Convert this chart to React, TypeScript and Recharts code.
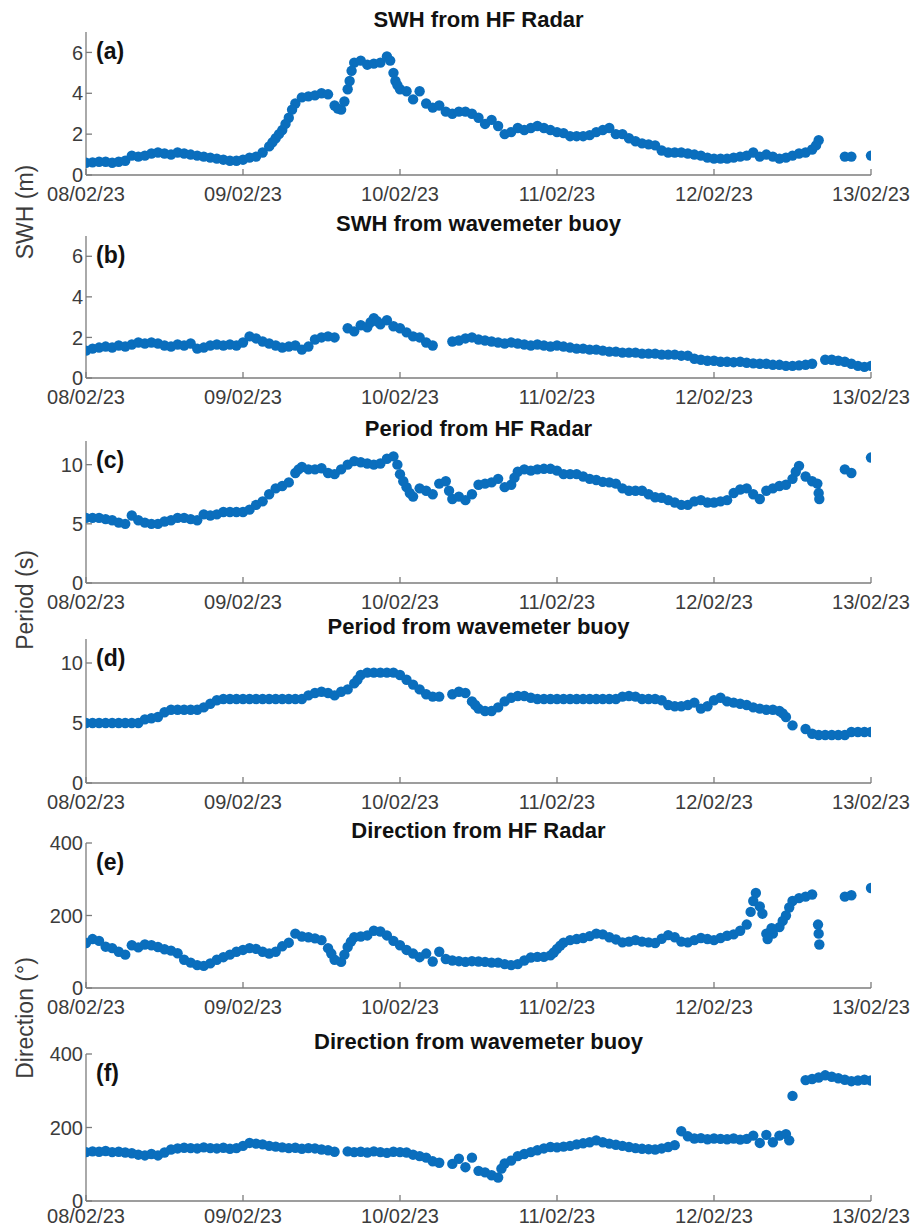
import React from 'react';
import { ScatterChart, Scatter, XAxis, YAxis } from 'recharts';

// ---- tick labels / categories ----
const DATE_TICKS = [0, 24, 48, 72, 96, 120]; // hours since 08/02/23 00:00
const DATE_LABELS = ['08/02/23', '09/02/23', '10/02/23', '11/02/23', '12/02/23', '13/02/23'];

const TITLES = [
  'SWH from HF Radar',
  'SWH from wavemeter buoy',
  'Period from HF Radar',
  'Period from wavemeter buoy',
  'Direction from HF Radar',
  'Direction from wavemeter buoy',
];
const TAGS = ['(a)', '(b)', '(c)', '(d)', '(e)', '(f)'];
const Y_LABELS = ['SWH (m)', 'Period (s)', 'Direction (°)'];

const SWH_DOMAIN = [0, 7];
const SWH_TICKS = [0, 2, 4, 6];
const PER_DOMAIN = [0, 12];
const PER_TICKS = [0, 5, 10];
const DIR_DOMAIN = [0, 400];
const DIR_TICKS = [0, 200, 400];

// ---- hourly series values (index = hour from 08/02/23 00:00), null = no data ----
const swhRadar = [
  0.6, 0.62, 0.65, 0.65, 0.6, 0.65, 0.7,
  0.95, 0.9, 0.95, 1.05, 1.1, 1.05,
  1.0, 1.1, 1.05, 1.0, 0.95, 0.9,
  0.85, 0.8, 0.75, 0.7, 0.7, 0.75,
  0.85, 0.9, 1.1, 1.4, 1.8, 2.2,
  2.8, 3.5, 3.8, 3.85, 3.9, 4.0,
  3.95, 3.4, 3.2, 4.2, 5.5, 5.6,
  5.4, 5.45, 5.5, 5.8, 5.0, 4.2,
  4.1, 3.7, 4.1, 3.5, 3.3, 3.4,
  3.1, 3.0, 3.1, 3.1, 3.0, 2.8,
  2.5, 2.7, 2.4, 2.0, 2.1, 2.3,
  2.2, 2.3, 2.4, 2.3, 2.2, 2.1,
  2.05, 1.9, 1.9, 1.9, 1.95, 2.1,
  2.2, 2.3, 2.0, 2.0, 1.8, 1.65,
  1.55, 1.5, 1.45, 1.2, 1.1, 1.1,
  1.1, 1.05, 1.0, 0.95, 0.85, 0.8,
  0.8, 0.8, 0.85, 0.9, 0.95, 1.1,
  0.9, 1.0, 0.9, 0.8, 0.85, 0.95,
  1.05, 1.1, 1.25, 1.7, null, null,
  null, 0.9, 0.9, null, null, 0.95,
];
const swhRadarExtra = [
  [28.5, 1.6], [29.5, 2.0], [30.5, 2.5], [31.5, 3.2], [38.5, 3.25], [39.5, 3.6],
  [40.3, 4.6], [40.6, 5.1], [46.5, 5.6], [47.3, 4.6], [47.6, 4.4], [111.6, 1.45],
];

const swhBuoy = [
  1.35, 1.45, 1.5, 1.55, 1.5, 1.6, 1.55,
  1.65, 1.75, 1.7, 1.75, 1.7, 1.6,
  1.55, 1.65, 1.6, 1.7, 1.45, 1.5,
  1.6, 1.65, 1.6, 1.65, 1.6, 1.75,
  2.05, 1.95, 1.8, 1.7, 1.6, 1.5,
  1.55, 1.6, 1.4, 1.55, 1.9, 2.0,
  2.05, 2.0, null, 2.45, 2.3, 2.6,
  2.5, 2.95, 2.65, 2.85, 2.55, 2.45,
  2.25, 2.05, 2.0, 1.75, 1.6, null,
  null, 1.8, 1.85, 1.95, 2.0, 1.9,
  1.85, 1.8, 1.75, 1.7, 1.75, 1.7,
  1.65, 1.6, 1.65, 1.6, 1.55, 1.6,
  1.55, 1.5, 1.45, 1.45, 1.4, 1.4,
  1.35, 1.3, 1.3, 1.25, 1.25, 1.25,
  1.2, 1.2, 1.2, 1.15, 1.15, 1.15,
  1.1, 1.1, 0.95, 0.9, 0.85, 0.85,
  0.8, 0.8, 0.78, 0.8, 0.75, 0.72,
  0.7, 0.7, 0.65, 0.65, 0.6, 0.6,
  0.62, 0.65, 0.7, null, 0.9, 0.9,
  0.85, 0.8, 0.7, 0.6, 0.55, 0.6,
];
const swhBuoyExtra = [[43.5, 2.75], [44.5, 2.8]];

const perRadar = [
  5.5, 5.5, 5.5, 5.4, 5.3, 5.1, 5.0,
  5.7, 5.3, 5.1, 5.0, 5.0, 5.2,
  5.3, 5.5, 5.5, 5.4, 5.3, 5.8,
  5.7, 5.8, 6.0, 6.0, 6.0, 6.0,
  6.2, 6.6, 6.9, 7.5, 8.0, 8.2,
  8.5, 9.3, 9.8, 9.6, 9.6, 9.7,
  9.3, 9.2, 9.6, 10.0, 10.3, 10.2,
  10.1, 10.0, 10.1, 10.5, 10.7, 9.2,
  8.1, 7.3, 8.0, 7.8, 7.5, 8.4,
  8.6, 7.1, 7.3, 7.0, 7.5, 8.3,
  8.4, 8.5, 8.8, 8.1, 8.3, 9.4,
  9.6, 9.5, 9.6, 9.65, 9.65, 9.5,
  9.2, 9.2, 9.2, 9.0, 8.8, 8.7,
  8.55, 8.5, 8.4, 8.0, 7.8, 7.8,
  7.8, 7.5, 7.25, 7.2, 7.0, 6.8,
  6.6, 6.6, 6.9, 7.0, 6.8, 6.8,
  6.9, 7.0, 7.6, 7.9, 8.0, 7.5,
  7.1, 7.8, 8.0, 8.2, 8.3, 8.8,
  9.9, 9.0, 8.6, 7.6, null, null,
  null, 9.6, 9.3, null, null, 10.6,
];
const perRadarExtra = [
  [111.8, 8.4], [112.1, 7.1], [47.6, 10.0], [48.5, 8.6], [49.5, 7.6], [32.5, 9.6],
  [55.5, 7.8], [65.5, 8.9], [108.5, 9.4],
];

const perBuoy = [
  5.0, 5.0, 5.0, 5.0, 5.0, 5.0, 5.0,
  5.0, 5.0, 5.3, 5.4, 5.5, 5.9,
  6.1, 6.1, 6.1, 6.1, 6.1, 6.3,
  6.6, 6.9, 7.0, 7.0, 7.0, 7.0,
  7.0, 7.0, 7.0, 7.0, 7.0, 7.0,
  7.0, 7.0, 7.0, 7.3, 7.5, 7.6,
  7.5, 7.3, 7.6, 7.8, 8.3, 9.0,
  9.2, 9.2, 9.2, 9.2, 9.2, 9.0,
  8.6, 8.2, 7.8, 7.4, 7.2, 7.2,
  null, 7.4, 7.6, 7.5, 6.8, 6.2,
  6.0, 6.0, 6.3, 6.8, 7.1, 7.25,
  7.25, 7.1, 7.0, 7.0, 7.0, 7.0,
  7.0, 7.0, 7.0, 7.0, 7.0, 7.0,
  7.0, 7.0, 7.0, 7.2, 7.25, 7.2,
  7.0, 7.0, 7.0, 6.9, 6.5, 6.4,
  6.4, 6.5, 6.7, 6.2, 6.4, 6.9,
  7.1, 6.8, 6.7, 6.6, 6.5, 6.3,
  6.2, 6.1, 6.1, 6.0, 5.5, 4.8,
  null, 4.5, 4.1, 4.0, 4.0, 4.0,
  4.0, 4.0, 4.25, 4.25, 4.25, 4.25,
];
const perBuoyExtra = [[41.5, 8.6], [106.5, 5.8], [59.5, 6.5]];

const dirRadar = [
  124, 135, 130, 114, 110, 100, 92,
  118, 112, 120, 118, 113, 107,
  103, 96, 78, 70, 63, 61,
  68, 78, 85, 92, 100, 105,
  110, 108, 100, 95, 100, 115,
  125, 150, 142, 140, 137, 132,
  110, 78, 72, 113, 140, 142,
  145, 158, 156, 145, 130, 118,
  105, 95, 85, 95, 73, 100,
  80, 76, 74, 72, 74, 73,
  72, 70, 70, 66, 63, 66,
  76, 84, 86, 86, 90, 108,
  125, 132, 135, 138, 143, 150,
  148, 140, 134, 126, 128, 132,
  128, 126, 124, 136, 146, 140,
  128, 126, 132, 138, 135, 132,
  138, 144, 148, 158, 175, 240,
  225, 150, 150, 168, 200, 240,
  248, 252, 258, 150, null, null,
  null, 252, 256, null, null, 276,
];
const dirRadarExtra = [
  [101.6, 210], [102.4, 262], [103.4, 205], [104.2, 135], [104.8, 165],
  [111.9, 175], [112.1, 120], [37.5, 95], [39.5, 92], [40.5, 128],
  [71.5, 98], [72.5, 117], [106.5, 185], [107.5, 222],
];

const dirBuoy = [
  133, 135, 134, 136, 133, 134, 132,
  130, 126, 124, 128, 124, 132,
  140, 143, 145, 144, 143, 146,
  144, 143, 145, 142, 144, 150,
  158, 156, 154, 150, 148, 146,
  144, 145, 142, 144, 143, 140,
  138, 134, null, 135, 133, 134,
  132, 135, 133, 131, 134, 133,
  132, 126, 122, 118, 108, 104,
  null, 101, 115, 92, 118, 82,
  78, 70, 64, 102, 110, 122,
  128, 133, 138, 143, 147, 146,
  148, 150, 154, 157, 160, 165,
  160, 156, 153, 150, 147, 144,
  142, 141, 140, 143, 147, 152,
  190, 176, 170, 171, 168, 170,
  169, 168, 170, 167, 169, 178,
  158, 180, 160, 178, 182, 286,
  null, 329, 332, 336, 342, 338,
  334, 330, 326, 328, 330, 328,
];
const dirBuoyExtra = [[107.5, 165], [63.5, 88]];

// ---- styling / layout ----
const BLUE = '#0a6ebd';
const AXIS = '#7c7c7c';
const TXT = '#3c3c3c';
const FONT = '"Liberation Sans", Arial, Helvetica, sans-serif';
const PLOT_LEFT = 86;
const PLOT_RIGHT = 871;

const build = (vals, extra) => {
  const pts = [];
  vals.forEach((v, i) => {
    if (v !== null) pts.push({ t: i, v });
  });
  extra.forEach(([t, v]) => pts.push({ t, v }));
  return pts;
};

const PANELS = [
  { top: 32, h: 143, gap: 18, vals: swhRadar, extra: swhRadarExtra, domain: SWH_DOMAIN, ticks: SWH_TICKS },
  { top: 236, h: 142, gap: 18, vals: swhBuoy, extra: swhBuoyExtra, domain: SWH_DOMAIN, ticks: SWH_TICKS },
  { top: 441, h: 142, gap: 18, vals: perRadar, extra: perRadarExtra, domain: PER_DOMAIN, ticks: PER_TICKS },
  { top: 639, h: 144, gap: 18, vals: perBuoy, extra: perBuoyExtra, domain: PER_DOMAIN, ticks: PER_TICKS },
  { top: 843, h: 145, gap: 18, vals: dirRadar, extra: dirRadarExtra, domain: DIR_DOMAIN, ticks: DIR_TICKS },
  { top: 1054, h: 147, gap: 14, vals: dirBuoy, extra: dirBuoyExtra, domain: DIR_DOMAIN, ticks: DIR_TICKS },
];

const Y_LABEL_CENTERS = [212, 600, 1018];

const Dot = (p) => {
  if (p.cx == null || p.cy == null) return null;
  return <circle cx={p.cx} cy={p.cy} r={5.2} fill={BLUE} />;
};

function Panel({ top, h, gap, vals, extra, domain, ticks }) {
  const M = { top: 30, right: 912 - PLOT_RIGHT, bottom: 5, left: PLOT_LEFT - 50 };
  const height = M.top + h + 30 + M.bottom;
  const data = build(vals, extra);
  return (
    <div style={{ position: 'absolute', left: 0, top: top - M.top }}>
      <ScatterChart width={912} height={height} margin={M}>
        <XAxis
          xAxisId="b"
          dataKey="t"
          type="number"
          domain={[0, 120]}
          ticks={DATE_TICKS}
          interval={0}
          allowDataOverflow
          tickFormatter={(t) => DATE_LABELS[DATE_TICKS.indexOf(t)]}
          height={30}
          tickSize={-6}
          tickMargin={gap}
          stroke={AXIS}
          strokeWidth={1.3}
          tick={{ fill: TXT, fontSize: 20, fontFamily: FONT }}
        />
        <XAxis
          xAxisId="t"
          orientation="top"
          type="number"
          domain={[0, 120]}
          ticks={DATE_TICKS}
          interval={0}
          allowDataOverflow
          tick={false}
          height={0}
          tickSize={-6}
          stroke={AXIS}
          strokeWidth={1.3}
        />
        <YAxis
          yAxisId="l"
          dataKey="v"
          type="number"
          domain={domain}
          ticks={ticks}
          interval={0}
          allowDataOverflow
          width={50}
          tickSize={-6}
          tickMargin={9}
          stroke={AXIS}
          strokeWidth={1.3}
          tick={{ fill: TXT, fontSize: 20, fontFamily: FONT }}
        />
        <YAxis
          yAxisId="r"
          orientation="right"
          type="number"
          domain={domain}
          ticks={ticks}
          interval={0}
          allowDataOverflow
          tick={false}
          width={0}
          tickSize={-6}
          stroke={AXIS}
          strokeWidth={1.3}
        />
        <Scatter xAxisId="b" yAxisId="l" data={data} dataKey="v" isAnimationActive={false} shape={Dot} />
      </ScatterChart>
    </div>
  );
}

export default function App() {
  const cx = (PLOT_LEFT + PLOT_RIGHT) / 2;
  return (
    <div style={{ position: 'absolute', left: 0, top: 0, width: 912, height: 1230, background: '#fff', fontFamily: FONT }}>
      {PANELS.map((p, i) => (
        <Panel key={i} {...p} />
      ))}
      <svg width={912} height={1230} style={{ position: 'absolute', left: 0, top: 0, pointerEvents: 'none' }}>
        {PANELS.map((p, i) => (
          <text key={'t' + i} x={cx} y={p.top - 5} textAnchor="middle" fontWeight="bold" fontSize={22} fill="#111" fontFamily={FONT}>
            {TITLES[i]}
          </text>
        ))}
        {PANELS.map((p, i) => (
          <text key={'g' + i} x={96} y={p.top + 27} fontWeight="bold" fontSize={23} fill="#111" fontFamily={FONT}>
            {TAGS[i]}
          </text>
        ))}
        {Y_LABELS.map((l, i) => (
          <text
            key={'y' + i}
            x={25}
            y={Y_LABEL_CENTERS[i]}
            textAnchor="middle"
            dominantBaseline="central"
            transform={`rotate(-90, 25, ${Y_LABEL_CENTERS[i]})`}
            fontSize={23}
            fill={TXT}
            fontFamily={FONT}
          >
            {l}
          </text>
        ))}
      </svg>
    </div>
  );
}
